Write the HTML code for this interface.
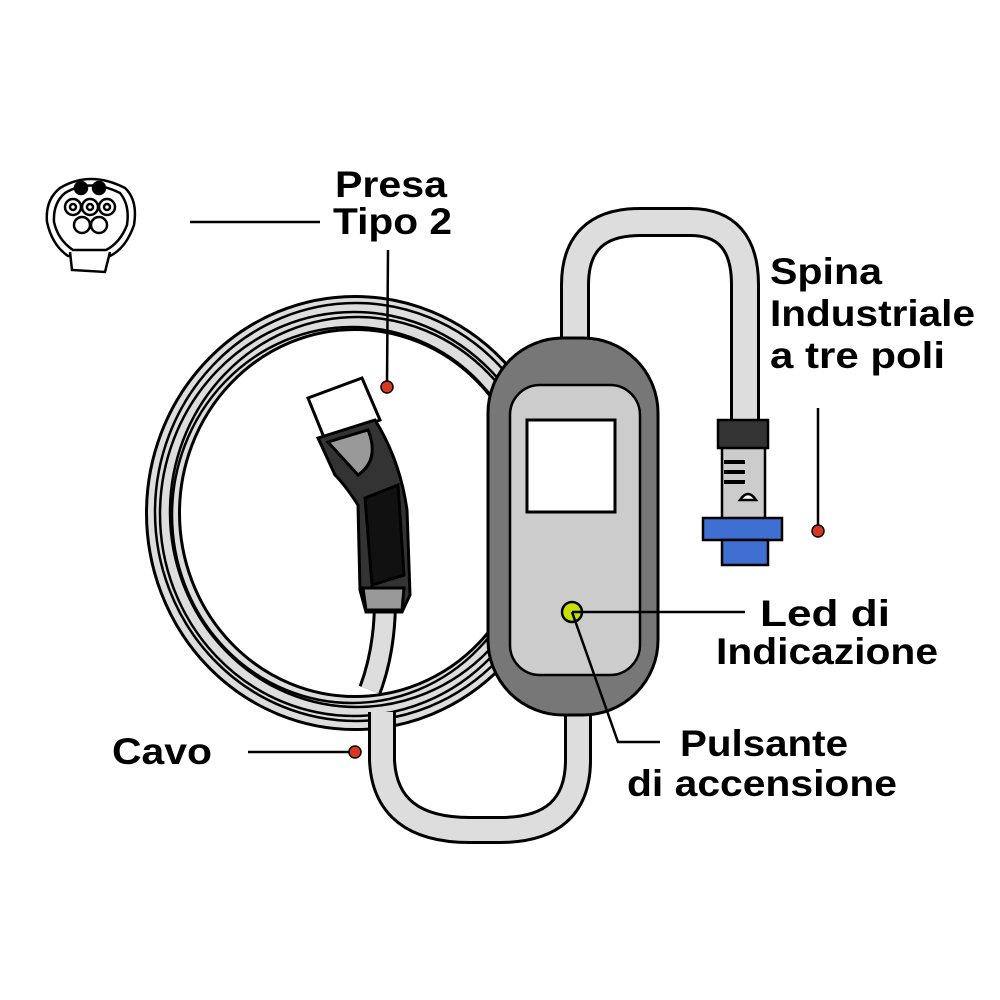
<!DOCTYPE html>
<html><head><meta charset="utf-8"><style>
html,body{margin:0;padding:0;background:#fff;}
svg{display:block;}
text{font-family:"Liberation Sans",sans-serif;font-weight:bold;font-size:37px;fill:#000;}
</style></head><body>
<svg width="1000" height="1000" viewBox="0 0 1000 1000">
<!-- socket icon -->
<g stroke="#000" fill="#fff" stroke-width="2.5">
<path d="M60,188 Q90,170 125,188 Q138,200 134,225 Q126,248 110,256 L68,256 Q52,245 47,222 Q45,200 60,188Z"/>
<path d="M65,193 Q90,178 120,193 Q130,205 127,225 Q120,243 106,250 L73,250 Q58,240 54,222 Q53,203 65,193Z"/>
<path d="M70,252 L72,270 L105,272 L110,252" />
<circle cx="81" cy="188" r="6" fill="#000"/><circle cx="99" cy="188" r="6" fill="#000"/>
<circle cx="73" cy="207" r="8"/><circle cx="90" cy="207" r="8"/><circle cx="107" cy="207" r="8"/>
<circle cx="73" cy="207" r="3"/><circle cx="90" cy="207" r="3"/><circle cx="107" cy="207" r="3"/>
<circle cx="82" cy="225" r="8"/><circle cx="99" cy="225" r="8"/>
</g>
<!-- coil -->
<g fill="none" stroke="#000">
<ellipse cx="355" cy="513" rx="192" ry="200" stroke-width="36"/>
<ellipse cx="355" cy="513" rx="192" ry="200" stroke="#ddd" stroke-width="30"/>
<ellipse cx="352" cy="515" rx="180" ry="188" stroke-width="2.5"/>
<ellipse cx="357" cy="512" rx="187" ry="195" stroke-width="2.5"/>
<ellipse cx="354" cy="514" rx="194" ry="202" stroke-width="2.5"/>
<ellipse cx="356" cy="512" rx="201" ry="209" stroke-width="2.5"/>
</g>
<!-- upper cable -->
<path d="M575,345 L575,285 Q575,222 640,222 L690,222 Q745,222 745,285 L745,420" fill="none" stroke="#000" stroke-width="30"/>
<path d="M575,345 L575,285 Q575,222 640,222 L690,222 Q745,222 745,285 L745,420" fill="none" stroke="#ddd" stroke-width="24"/>
<!-- lower cable -->
<path d="M382,712 L382,760 Q385,830 470,830 L500,830 Q578,830 578,760 L578,712" fill="none" stroke="#000" stroke-width="28"/>
<path d="M382,712 L382,760 Q385,830 470,830 L500,830 Q578,830 578,760 L578,712" fill="none" stroke="#ddd" stroke-width="22"/>
<!-- connector cable -->
<path d="M385,600 Q385,650 370,690" fill="none" stroke="#000" stroke-width="24"/>
<path d="M385,600 Q385,650 370,690" fill="none" stroke="#ddd" stroke-width="18"/>
<!-- connector -->
<g stroke="#000" stroke-width="3">
<path d="M308,398 L362,378 L380,420 L325,440Z" fill="#fff"/>
<path d="M318,438 L375,420 Q400,460 407,510 L410,595 L402,612 L366,612 L360,590 L358,505 Q345,485 335,475Z" fill="#333"/>
<path d="M328,442 L368,430 Q380,460 358,475 Z" fill="#999"/>
<path d="M365,498 L398,485 L404,575 L372,585Z" fill="#111"/>
<path d="M363,588 L404,588 L402,610 L366,610Z" fill="#999"/>
</g>
<!-- control box -->
<rect x="488" y="338" width="170" height="377" rx="75" fill="#777" stroke="#000" stroke-width="3"/>
<rect x="510" y="385" width="130" height="290" rx="30" fill="#ccc" stroke="#000" stroke-width="2.5"/>
<rect x="527" y="420" width="88" height="92" fill="#fff" stroke="#000" stroke-width="3"/>
<circle cx="572" cy="612" r="10" fill="#c8e000" stroke="#000" stroke-width="2.5"/>
<!-- plug -->
<g stroke="#000" stroke-width="2.5">
<path d="M722,445 L765,445 L765,520 L722,520Z" fill="#ccc"/>
<rect x="718" y="420" width="50" height="28" fill="#333"/>
<rect x="703" y="518" width="79" height="22" fill="#3f6fd0"/>
<rect x="722" y="540" width="46" height="25" fill="#3f6fd0"/>
<path d="M740,500 Q748,488 756,500Z" fill="#fff"/>
<line x1="724" y1="462" x2="745" y2="462" stroke-width="4"/>
<line x1="724" y1="472" x2="745" y2="472" stroke-width="4"/>
<line x1="724" y1="482" x2="745" y2="482" stroke-width="4"/>
</g>
<!-- leader lines -->
<g stroke="#000" stroke-width="2.5" fill="none">
<line x1="190" y1="222" x2="320" y2="222"/>
<line x1="388" y1="250" x2="387" y2="385"/>
<line x1="818" y1="408" x2="818" y2="530"/>
<line x1="572" y1="612" x2="745" y2="612"/>
<polyline points="572,612 618,742 660,742"/>
<line x1="248" y1="752" x2="355" y2="752"/>
</g>
<g fill="#d9381e" stroke="#000" stroke-width="1.5">
<circle cx="387" cy="387" r="6"/><circle cx="818" cy="531" r="6"/><circle cx="355" cy="752" r="6"/>
</g>
<!-- labels -->
<text x="335" y="197" textLength="112" lengthAdjust="spacingAndGlyphs">Presa</text>
<text x="333" y="234" textLength="119" lengthAdjust="spacingAndGlyphs">Tipo 2</text>
<text x="770" y="284" textLength="112" lengthAdjust="spacingAndGlyphs">Spina</text>
<text x="770" y="326" textLength="205" lengthAdjust="spacingAndGlyphs">Industriale</text>
<text x="770" y="368" textLength="175" lengthAdjust="spacingAndGlyphs">a tre poli</text>
<text x="760" y="626" textLength="130" lengthAdjust="spacingAndGlyphs">Led di</text>
<text x="716" y="664" textLength="222" lengthAdjust="spacingAndGlyphs">Indicazione</text>
<text x="680" y="756" textLength="168" lengthAdjust="spacingAndGlyphs">Pulsante</text>
<text x="627" y="796" textLength="270" lengthAdjust="spacingAndGlyphs">di accensione</text>
<text x="112" y="764" textLength="100" lengthAdjust="spacingAndGlyphs">Cavo</text>
</svg>
</body></html>
